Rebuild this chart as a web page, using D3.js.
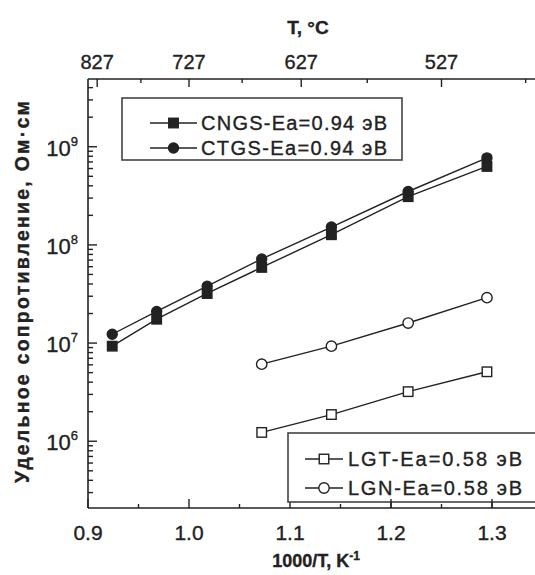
<!DOCTYPE html>
<html lang="ru">
<head>
  <meta charset="UTF-8" />
  <title>Удельное сопротивление</title>
  <script src="https://d3js.org/d3.v7.min.js"></script>
  <style>
    body { margin: 0; background: #fff; }
    svg { font-family: "Liberation Sans", Arial, sans-serif; }
    .ink { fill: #222; stroke: #222; stroke-width: 0.35px; }
  </style>
</head>
<body>
  <div id="chart"></div>
  <script>
    // 1000/T values (K^-1) of measured points
    const xHot = [0.924, 0.968, 1.018, 1.072, 1.141, 1.217, 1.295];
    const xLa = [1.072, 1.141, 1.217, 1.295];
    const cngs = [9.3e6, 1.75e7, 3.2e7, 5.9e7, 1.27e8, 3.1e8, 6.3e8];
    const ctgs = [1.23e7, 2.1e7, 3.8e7, 7.2e7, 1.52e8, 3.5e8, 7.7e8];
    const lgt = [1.23e6, 1.87e6, 3.2e6, 5.1e6];
    const lgn = [6.1e6, 9.3e6, 1.6e7, 2.9e7];
    const xTicks = [0.9, 1.0, 1.1, 1.2, 1.3];
    const xMinor = [0.95, 1.05, 1.15, 1.25];
    const tMajor = [827, 727, 627, 527];
    const tMinor = [777, 677, 577, 477];
    const yDecades = [6, 7, 8, 9];

    const width = 535, height = 575;
    const L = 88, T = 79, R = 540, B = 508;

    const svg = d3.select("#chart").append("svg")
      .attr("width", width).attr("height", height);

    const x = d3.scaleLinear().domain([0.9, 0.9 + (R - L) / 1010]).range([L, R]);
    const y = d3.scaleLog().domain([Math.pow(10, 5.32), Math.pow(10, 9.69)]).range([B, T]);
    const ink = "#222";

    // frame
    svg.append("line").attr("x1", L).attr("x2", R).attr("y1", T).attr("y2", T).attr("stroke", ink).attr("stroke-width", 1.6);
    svg.append("line").attr("x1", L).attr("x2", R).attr("y1", B).attr("y2", B).attr("stroke", ink).attr("stroke-width", 1.6);
    svg.append("line").attr("x1", L).attr("x2", L).attr("y1", T).attr("y2", B).attr("stroke", ink).attr("stroke-width", 1.6);

    // bottom axis (ticks inward)
    const bottom = svg.append("g");
    xTicks.forEach(v => {
      bottom.append("line").attr("x1", x(v)).attr("x2", x(v)).attr("y1", B).attr("y2", B - 9).attr("stroke", ink).attr("stroke-width", 1.4);
      bottom.append("text").attr("class", "ink").attr("x", x(v)).attr("y", B + 32)
        .attr("text-anchor", "middle").style("font-size", "21px").text(v.toFixed(1));
    });
    xMinor.forEach(v => {
      bottom.append("line").attr("x1", x(v)).attr("x2", x(v)).attr("y1", B).attr("y2", B - 4).attr("stroke", ink).attr("stroke-width", 1.4);
    });
    const xl = svg.append("text").attr("class", "ink").attr("x", 316).attr("y", 567)
      .attr("text-anchor", "middle").style("font-size", "18px").style("font-weight", "bold");
    xl.append("tspan").text("1000/T, K");
    xl.append("tspan").attr("dy", -7).style("font-size", "12px").text("-1");

    // top axis in °C
    const tx = t => x(1000 / (t + 273));
    tMajor.forEach(t => {
      svg.append("line").attr("x1", tx(t)).attr("x2", tx(t)).attr("y1", T).attr("y2", T + 8).attr("stroke", ink).attr("stroke-width", 1.4);
      svg.append("text").attr("class", "ink").attr("x", tx(t)).attr("y", 69)
        .attr("text-anchor", "middle").style("font-size", "20px").text(t);
    });
    tMinor.forEach(t => {
      svg.append("line").attr("x1", tx(t)).attr("x2", tx(t)).attr("y1", T).attr("y2", T + 4).attr("stroke", ink).attr("stroke-width", 1.4);
    });
    svg.append("text").attr("class", "ink").attr("x", 308).attr("y", 34)
      .attr("text-anchor", "middle").style("font-size", "19px").style("font-weight", "bold").text("T, °C");

    // left axis (log)
    const left = svg.append("g");
    for (let d = 5; d <= 9; d++) {
      for (let m = 1; m <= 9; m++) {
        const v = m * Math.pow(10, d);
        if (v < y.domain()[0] || v > y.domain()[1]) continue;
        const len = m === 1 ? 9 : 5;
        left.append("line").attr("x1", L).attr("x2", L + len).attr("y1", y(v)).attr("y2", y(v))
          .attr("stroke", ink).attr("stroke-width", 1.4);
      }
    }
    yDecades.forEach(d => {
      const t = left.append("text").attr("class", "ink").attr("x", 78).attr("y", y(Math.pow(10, d)) + 9)
        .attr("text-anchor", "end").style("font-size", "22px");
      t.append("tspan").text("10");
      t.append("tspan").attr("dy", -10).style("font-size", "13px").text(d);
    });
    svg.append("text").attr("class", "ink")
      .attr("transform", `translate(29,292) rotate(-90)`)
      .attr("text-anchor", "middle").style("font-size", "19.5px").style("font-weight", "bold")
      .attr("textLength", 382).attr("lengthAdjust", "spacing")
      .text("Удельное сопротивление,  Ом·см");

    // series
    const line = d3.line().x(d => x(d[0])).y(d => y(d[1]));
    function series(xs, ys, shape, filled) {
      const pts = xs.map((v, i) => [v, ys[i]]);
      svg.append("path").datum(pts).attr("d", line).attr("fill", "none").attr("stroke", ink).attr("stroke-width", 1.4);
      pts.forEach(p => drawMarker(x(p[0]), y(p[1]), shape, filled));
    }
    function drawMarker(cx, cy, shape, filled) {
      if (shape === "square") {
        const s = 9.5;
        svg.append("rect").attr("x", cx - s / 2).attr("y", cy - s / 2).attr("width", s).attr("height", s)
          .attr("fill", filled ? ink : "#fff").attr("stroke", ink).attr("stroke-width", 1.4);
      } else {
        svg.append("circle").attr("cx", cx).attr("cy", cy).attr("r", filled ? 5 : 5.2)
          .attr("fill", filled ? ink : "#fff").attr("stroke", ink).attr("stroke-width", 1.4);
      }
    }
    series(xHot, cngs, "square", true);
    series(xHot, ctgs, "circle", true);
    series(xLa, lgt, "square", false);
    series(xLa, lgn, "circle", false);

    // legends
    function legend(bx, by, bw, bh, rows, x0, x1, tx0, tw) {
      svg.append("rect").attr("x", bx).attr("y", by).attr("width", bw).attr("height", bh)
        .attr("fill", "#fff").attr("stroke", "#444").attr("stroke-width", 1.6);
      rows.forEach(r => {
        svg.append("line").attr("x1", x0).attr("x2", x1).attr("y1", r.y).attr("y2", r.y).attr("stroke", ink).attr("stroke-width", 1.4);
        drawMarker((x0 + x1) / 2, r.y, r.shape, r.filled);
        svg.append("text").attr("class", "ink").attr("x", tx0).attr("y", r.y + 7)
          .attr("textLength", tw).attr("lengthAdjust", "spacing")
          .style("font-size", "20px").text(r.label);
      });
    }
    legend(122, 98, 280, 62, [
      { y: 123, shape: "square", filled: true, label: "CNGS-Ea=0.94 эВ" },
      { y: 148, shape: "circle", filled: true, label: "CTGS-Ea=0.94 эВ" }
    ], 150, 197, 201, 186);
    legend(288, 433, 260, 69, [
      { y: 459, shape: "square", filled: false, label: "LGT-Ea=0.58 эВ" },
      { y: 488, shape: "circle", filled: false, label: "LGN-Ea=0.58 эВ" }
    ], 305, 343, 348, 174);

    // ticks at 1.2 and 1.3 show through the lower legend
    [1.2, 1.3].forEach(v => {
      svg.append("line").attr("x1", x(v)).attr("x2", x(v)).attr("y1", B).attr("y2", B - 9).attr("stroke", ink).attr("stroke-width", 1.4);
    });
  </script>
</body>
</html>
